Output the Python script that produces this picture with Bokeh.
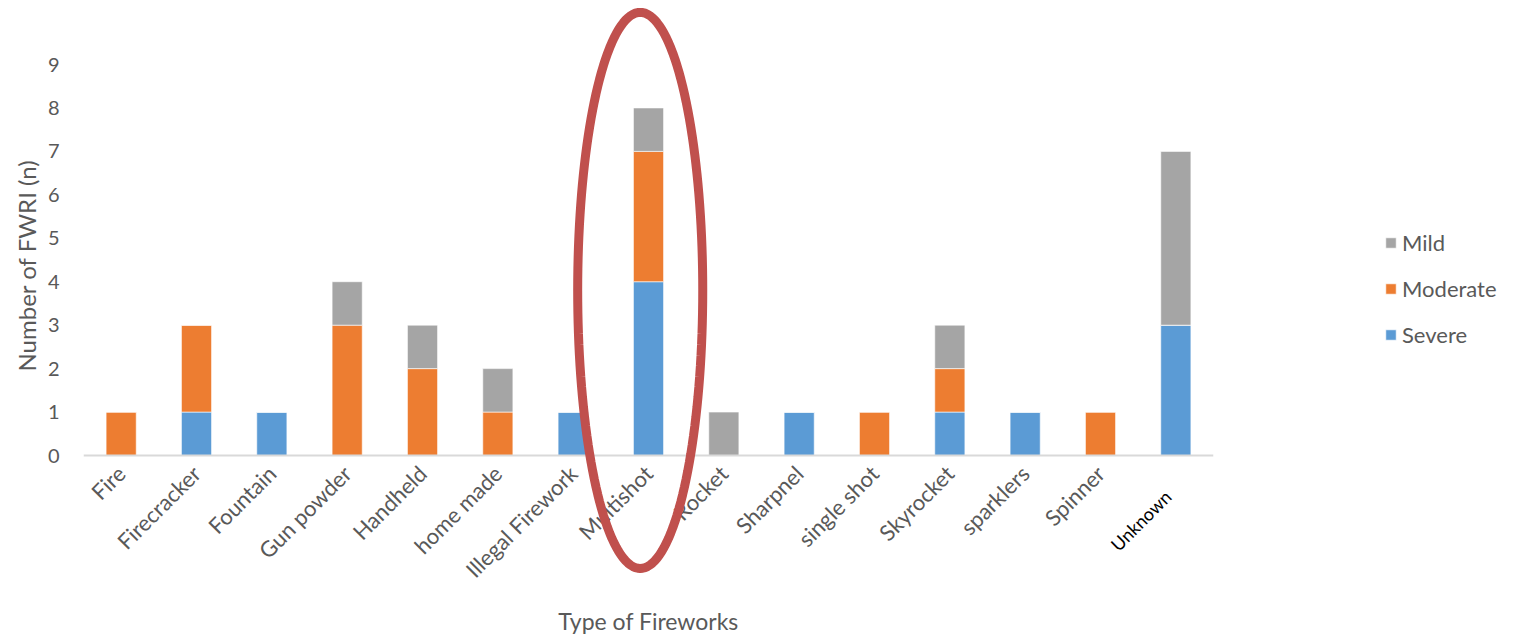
import math
from bokeh.plotting import figure
from bokeh.models import (ColumnDataSource, Range1d, FixedTicker, Legend, LegendItem,
                          PolyAnnotation, Label, Title)
from bokeh.embed import file_html
from bokeh.resources import INLINE

categories = ["Fire", "Firecracker", "Fountain", "Gun powder", "Handheld", "home made",
              "Illegal Firework", "Multishot", "Rocket", "Sharpnel", "single shot",
              "Skyrocket", "sparklers", "Spinner", "Unknown"]
severe   = [0, 1, 1, 0, 0, 0, 1, 4, 0, 1, 0, 1, 1, 0, 3]
moderate = [1, 2, 0, 3, 2, 1, 0, 3, 0, 0, 1, 1, 0, 1, 0]
mild     = [0, 0, 0, 1, 1, 1, 0, 1, 1, 0, 0, 1, 0, 0, 4]
y_ticks = list(range(0, 10))
highlight = "Multishot"

FONT = "Lato"
GREY = "#595959"

# vertical layout: value 0 at 455 px, value 9 at 64 px in a 636 px tall frame
PX = 391 / 9.0
y_lo = -(636 - 455) / PX
y_hi = 9 + 64 / PX

pos = list(range(len(categories)))
src = ColumnDataSource(dict(x=pos, cat=categories, Severe=severe, Moderate=moderate, Mild=mild))

p = figure(frame_width=1130, frame_height=636, x_range=Range1d(-0.5, len(categories) - 0.5),
           y_range=Range1d(y_lo, y_hi), output_backend="svg", toolbar_location=None,
           min_border_left=83, min_border_right=24, min_border_top=0, min_border_bottom=0)
p.outline_line_color = None
p.xgrid.grid_line_color = None
p.ygrid.grid_line_color = None

rs = p.vbar_stack(["Severe", "Moderate", "Mild"], x="x", width=0.4, source=src,
                  color=["#5B9BD5", "#ED7D31", "#A5A5A5"], line_color="white", line_width=0.6)

# y axis
ya = p.yaxis[0]
ya.ticker = FixedTicker(ticks=y_ticks)
ya.axis_line_color = None
ya.major_tick_line_color = None
ya.minor_tick_line_color = None
ya.major_label_text_font = FONT
ya.major_label_text_font_size = "20px"
ya.major_label_text_color = GREY
ya.major_label_standoff = 18

# y title (left panel), placed over the 0..9 value span
p.add_layout(Title(text="Number of  FWRI (n)", align="left", offset=265,
                   text_font=FONT, text_font_size="24px", text_font_style="normal",
                   text_color=GREY, standoff=8), "left")

# x axis, pinned at value 0
xa = p.xaxis[0]
xa.fixed_location = 0
xa.ticker = FixedTicker(ticks=pos)
xa.major_label_overrides = {i: ("" if c == "Unknown" else c) for i, c in enumerate(categories)}
xa.axis_line_color = "#D9D9D9"
xa.axis_line_width = 2
xa.major_tick_line_color = None
xa.minor_tick_line_color = None
xa.major_label_orientation = math.pi / 4
xa.major_label_text_font = FONT
xa.major_label_text_font_size = "22px"
xa.major_label_text_color = GREY
xa.major_label_standoff = 8
xa.axis_label = "Type of Fireworks"
xa.axis_label_text_font = FONT
xa.axis_label_text_font_size = "23px"
xa.axis_label_text_font_style = "normal"
xa.axis_label_text_color = GREY
xa.axis_label_standoff = 12

# 'Unknown' label in black
ui = categories.index("Unknown")
p.add_layout(Label(x=ui, y=0, text="Unknown", angle=math.pi / 4, text_align="right",
                   text_baseline="middle", x_offset=-8, y_offset=-38,
                   text_font=FONT, text_font_size="18px", text_color="black"))

# legend
legend = Legend(items=[LegendItem(label="Mild", renderers=[rs[2]]),
                       LegendItem(label="Moderate", renderers=[rs[1]]),
                       LegendItem(label="Severe", renderers=[rs[0]])],
                location=(171, 288), orientation="vertical",
                label_text_font=FONT, label_text_font_size="22px", label_text_color=GREY,
                glyph_width=13, glyph_height=13, label_height=22, spacing=19,
                border_line_color=None, background_fill_alpha=0, padding=0, margin=0)
p.add_layout(legend, "right")

# red ellipse around highlight
cx = categories.index(highlight) - 0.11
cy = 3.8
a, b = 0.83, 6.4
n = 160
xs = [cx + a * math.cos(2 * math.pi * k / n) for k in range(n)]
ys = [cy + b * math.sin(2 * math.pi * k / n) for k in range(n)]
p.add_layout(PolyAnnotation(xs=xs, ys=ys, fill_color=None, fill_alpha=0,
                            line_color="#C0504D", line_alpha=1, line_width=9))

open("out.html", "w").write(file_html(p, INLINE))
